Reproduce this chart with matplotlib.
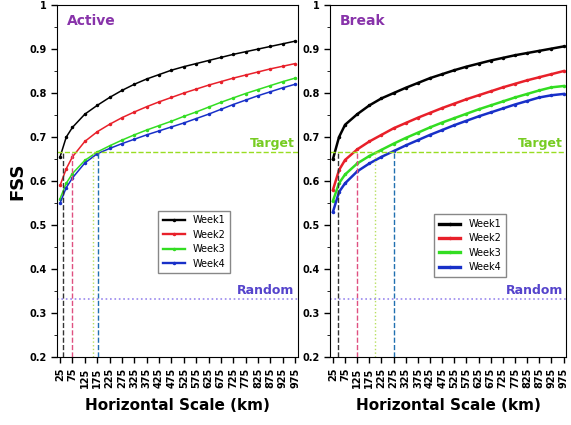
import matplotlib
matplotlib.use('Agg')
import matplotlib.pyplot as plt
from matplotlib.ticker import MultipleLocator

scales = [25, 50, 75, 125, 175, 225, 275, 325, 375, 425, 475, 525, 575,
          625, 675, 725, 775, 825, 875, 925, 975]
tick_scales = list(range(25, 1000, 50))

active = {
    'Week1': [0.655, 0.70, 0.722, 0.752, 0.772, 0.79, 0.806, 0.82, 0.832, 0.842, 0.852,
              0.86, 0.867, 0.874, 0.881, 0.888, 0.894, 0.90, 0.906, 0.912, 0.918],
    'Week2': [0.59, 0.628, 0.655, 0.69, 0.712, 0.729, 0.744, 0.757, 0.769, 0.78, 0.79,
              0.80, 0.809, 0.818, 0.826, 0.834, 0.841, 0.848, 0.855, 0.861, 0.867],
    'Week3': [0.56, 0.595, 0.617, 0.647, 0.666, 0.68, 0.693, 0.705, 0.716, 0.726, 0.736,
              0.747, 0.757, 0.768, 0.779, 0.789, 0.799, 0.808, 0.817, 0.826, 0.834],
    'Week4': [0.55, 0.585, 0.607, 0.641, 0.662, 0.674, 0.685, 0.695, 0.705, 0.714, 0.723,
              0.732, 0.742, 0.752, 0.763, 0.774, 0.784, 0.794, 0.803, 0.812, 0.82],
}
brk = {
    'Week1': [0.65, 0.70, 0.728, 0.752, 0.772, 0.788, 0.80, 0.812, 0.823, 0.834, 0.843,
              0.852, 0.86, 0.867, 0.874, 0.88, 0.886, 0.891, 0.896, 0.901, 0.906],
    'Week2': [0.58, 0.625, 0.648, 0.672, 0.69, 0.705, 0.72, 0.732, 0.744, 0.755, 0.766,
              0.776, 0.786, 0.795, 0.804, 0.813, 0.821, 0.829, 0.836, 0.843, 0.85],
    'Week3': [0.555, 0.595, 0.615, 0.64, 0.657, 0.671, 0.685, 0.698, 0.71, 0.722, 0.733,
              0.743, 0.753, 0.763, 0.772, 0.781, 0.79, 0.798, 0.806, 0.813, 0.816],
    'Week4': [0.53, 0.575, 0.595, 0.622, 0.64, 0.655, 0.668, 0.681, 0.693, 0.705, 0.716,
              0.727, 0.737, 0.747, 0.756, 0.765, 0.774, 0.782, 0.79, 0.795, 0.798],
}
active_cross = [35, 75, 160, 178]
break_cross = [45, 125, 200, 275]
target = 0.665
random_level = 0.332

line_colors = ['#000000', '#e8202a', '#33dd22', '#1830c8']
vline_colors = ['#333333', '#e05080', '#b8e060', '#2070b0']
vline_styles = ['--', '--', ':', '--']

fig = plt.figure(figsize=(5.71, 4.25), dpi=100)
ax1 = fig.add_axes([0.1, 0.16, 0.422, 0.828])
ax2 = fig.add_axes([0.578, 0.16, 0.414, 0.828])


def draw_panel(ax, data, cross, title, lw, legend_pos):
    for (name, vals), c in zip(data.items(), line_colors):
        ax.plot(scales, vals, color=c, lw=lw, marker='.', ms=3, label=name)
    for xc, c, ls in zip(cross, vline_colors, vline_styles):
        ax.plot([xc, xc], [0.2, target], color=c, ls=ls, lw=1.0)
    ax.axhline(target, color='#99dd22', ls='--', lw=1.0)
    ax.axhline(random_level, color='#9988ee', ls=':', lw=1.2)
    ax.set_xlim(13, 987)
    ax.set_ylim(0.2, 1.0)
    ax.set_xticks(tick_scales)
    ax.set_xticklabels([str(t) for t in tick_scales], rotation=90,
                       fontsize=7, fontweight='bold')
    ax.yaxis.set_minor_locator(MultipleLocator(0.05))
    ax.set_yticks([0.2, 0.3, 0.4, 0.5, 0.6, 0.7, 0.8, 0.9, 1.0])
    ax.set_yticklabels(['0.2', '0.3', '0.4', '0.5', '0.6', '0.7', '0.8', '0.9', '1'],
                       fontsize=7, fontweight='bold')
    ax.tick_params(axis='both', length=4, width=1)
    ax.tick_params(axis='y', which='minor', length=2)
    ax.set_xlabel('Horizontal Scale (km)', fontsize=11, fontweight='bold', labelpad=7)
    ax.text(0.04, 0.975, title, transform=ax.transAxes, color='#8833aa',
            fontsize=10, fontweight='bold', va='top')
    ax.text(0.985, 0.686, 'Target', transform=ax.get_yaxis_transform(),
            color='#77cc22', fontsize=9, fontweight='bold', ha='right', va='center')
    ax.text(0.985, 0.352, 'Random', transform=ax.get_yaxis_transform(),
            color='#5544cc', fontsize=9, fontweight='bold', ha='right', va='center')
    leg = ax.legend(loc='upper left', bbox_to_anchor=legend_pos, fontsize=7,
                    handlelength=2.2, labelspacing=0.45, borderpad=0.5,
                    fancybox=False, framealpha=1, edgecolor='#888888')
    for h in leg.get_lines():
        h.set_linewidth(lw + 0.6)


draw_panel(ax1, active, active_cross, 'Active', 1.1, (0.4, 0.43))
draw_panel(ax2, brk, break_cross, 'Break', 1.8, (0.42, 0.42))
ax1.set_ylabel('FSS', fontsize=13, fontweight='bold', labelpad=2)

fig.savefig('out.png', dpi=100)
